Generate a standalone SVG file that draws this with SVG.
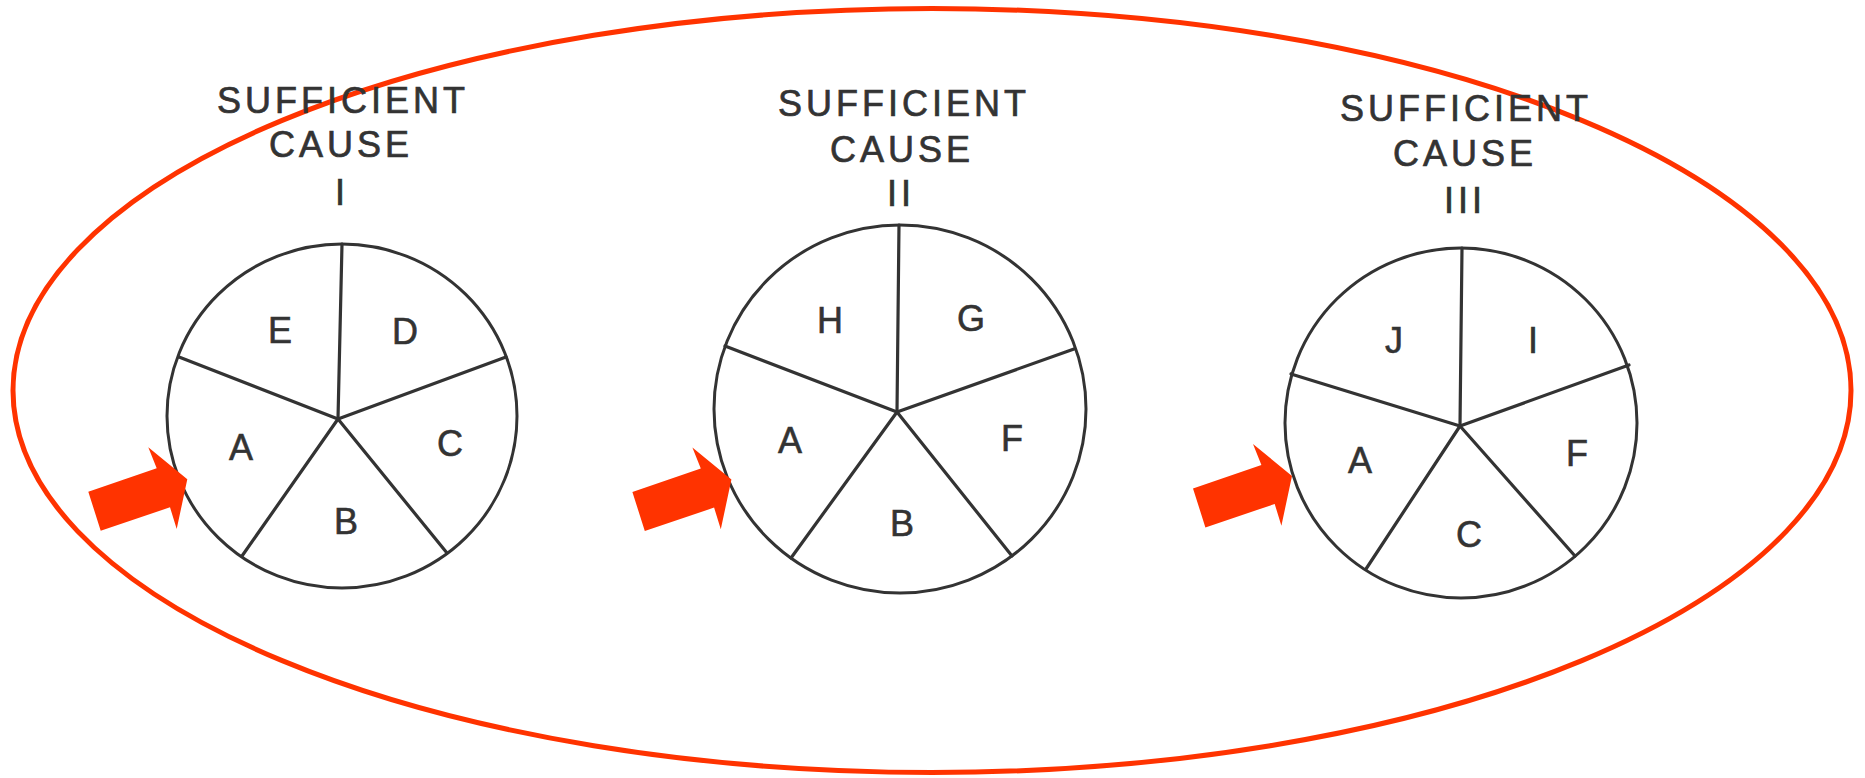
<svg xmlns="http://www.w3.org/2000/svg" xmlns:xlink="http://www.w3.org/1999/xlink" width="1865" height="778" viewBox="0 0 1865 778">
  <style>
    .pie { fill: none; stroke: #333; stroke-width: 3; }
    .spoke { stroke: #333; stroke-width: 3.2; stroke-linecap: round; }
    .title { font-family: "Liberation Sans", Arial, sans-serif; font-size: 36px; fill: #333; stroke: #333; stroke-width: 0.7; text-anchor: middle; letter-spacing: 4px; }
    .lbl { font-family: "Liberation Sans", Arial, sans-serif; font-size: 36px; fill: #333; stroke: #333; stroke-width: 0.6; text-anchor: middle; }
    .frame { fill: none; stroke: #FF3300; stroke-width: 5; }
    .arrow { fill: #FF3300; }
  </style>
  <defs>
    <path id="blockArrow" d="M -99 12.4 L -30.6 -11 L -39 -32 L 0 0 L -10.6 49.7 L -17.3 28 L -86.6 51.4 Z"/>
  </defs>
  <rect width="1865" height="778" fill="#ffffff"/>

  <ellipse id="frame" class="frame" cx="932" cy="390.5" rx="919" ry="382"/>

  <g id="cause-1">
    <text class="title" x="343" y="113">SUFFICIENT</text>
    <text class="title" x="341" y="157">CAUSE</text>
    <text class="title" x="342" y="205">I</text>
    <ellipse class="pie" cx="342" cy="416" rx="175" ry="172"/>
    <line class="spoke" x1="338" y1="419" x2="342" y2="244"/>
    <line class="spoke" x1="338" y1="419" x2="179" y2="357"/>
    <line class="spoke" x1="338" y1="419" x2="506" y2="357"/>
    <line class="spoke" x1="338" y1="419" x2="242" y2="556"/>
    <line class="spoke" x1="338" y1="419" x2="447" y2="553"/>
    <text class="lbl" x="280" y="343">E</text>
    <text class="lbl" x="405" y="344">D</text>
    <text class="lbl" x="241" y="460">A</text>
    <text class="lbl" x="450" y="456">C</text>
    <text class="lbl" x="346" y="534">B</text>
  </g>

  <g id="cause-2">
    <text class="title" x="904" y="116">SUFFICIENT</text>
    <text class="title" x="902" y="162">CAUSE</text>
    <text class="title" x="901" y="206">II</text>
    <ellipse class="pie" cx="900" cy="409" rx="186" ry="184"/>
    <line class="spoke" x1="897" y1="412" x2="899" y2="225"/>
    <line class="spoke" x1="897" y1="412" x2="725" y2="346"/>
    <line class="spoke" x1="897" y1="412" x2="1074" y2="349"/>
    <line class="spoke" x1="897" y1="412" x2="791" y2="558"/>
    <line class="spoke" x1="897" y1="412" x2="1012" y2="556"/>
    <text class="lbl" x="830" y="333">H</text>
    <text class="lbl" x="971" y="331">G</text>
    <text class="lbl" x="790" y="453">A</text>
    <text class="lbl" x="1012" y="451">F</text>
    <text class="lbl" x="902" y="536">B</text>
  </g>

  <g id="cause-3">
    <text class="title" x="1466" y="121">SUFFICIENT</text>
    <text class="title" x="1465" y="166">CAUSE</text>
    <text class="title" x="1465" y="213">III</text>
    <ellipse class="pie" cx="1461" cy="423" rx="176" ry="175"/>
    <line class="spoke" x1="1460" y1="426" x2="1462" y2="248"/>
    <line class="spoke" x1="1460" y1="426" x2="1291" y2="374"/>
    <line class="spoke" x1="1460" y1="426" x2="1629" y2="365"/>
    <line class="spoke" x1="1460" y1="426" x2="1366" y2="569"/>
    <line class="spoke" x1="1460" y1="426" x2="1575" y2="556"/>
    <text class="lbl" x="1394" y="353">J</text>
    <text class="lbl" x="1533" y="353">I</text>
    <text class="lbl" x="1360" y="473">A</text>
    <text class="lbl" x="1577" y="466">F</text>
    <text class="lbl" x="1469" y="547">C</text>
  </g>

  <g id="connectors">
    <use class="arrow" xlink:href="#blockArrow" href="#blockArrow" transform="translate(187.3,479.3)"/>
    <use class="arrow" xlink:href="#blockArrow" href="#blockArrow" transform="translate(731.4,479.6)"/>
    <use class="arrow" xlink:href="#blockArrow" href="#blockArrow" transform="translate(1292,476)"/>
  </g>
</svg>
